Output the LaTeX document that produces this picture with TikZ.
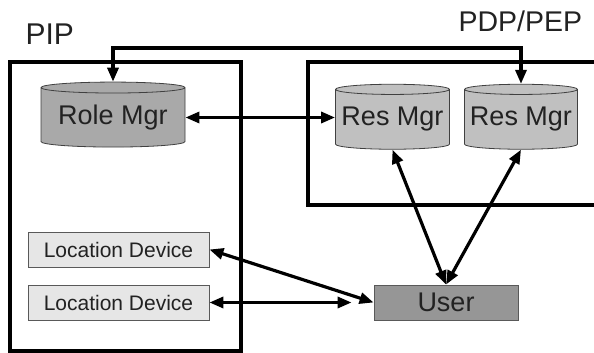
\documentclass[tikz,border=0pt]{standalone}
\usepackage{fontspec}
\setmainfont{Liberation Sans}
\usetikzlibrary{shapes.geometric,arrows.meta}
\definecolor{txt}{HTML}{222222}
\definecolor{rolegray}{HTML}{A9A9A9}
\definecolor{resgray}{HTML}{C0C0C0}
\definecolor{devgray}{HTML}{E6E6E6}
\definecolor{usergray}{HTML}{969696}

\begin{document}
\begin{tikzpicture}[x=1pt,y=-1pt,
		db/.style={cylinder, shape border rotate=90, aspect=0.1, draw=black!75, line width=0.8pt, minimum height=65pt, inner sep=0pt, text=txt, font=\fontsize{27}{27}\selectfont},
		dev/.style={rectangle, draw=black!65, line width=0.8pt, minimum height=35pt, inner sep=0pt, text=txt},
		frame/.style={line width=3.5pt},
		link/.style={{Triangle[length=14pt,width=11pt]}-{Triangle[length=14pt,width=11pt]}, line width=3.2pt}]
			\useasboundingbox (0,0) rectangle (594,353);
			
			\node[anchor=base west, text=txt, font=\fontsize{30}{30}\selectfont] (PIP) at (22,45) {PIP};
			\node[anchor=base west, text=txt, font=\fontsize{28.5}{28.5}\selectfont] (PDP) at (455,32) {PDP/PEP};
			
			\draw[frame] (10,62) rectangle (241,351);
			\draw[frame] (597,62) -- (308,62) -- (308,205) -- (597,205);
			
			\node[db, fill=rolegray, minimum width=144pt] (RM) at (113,117.5) {Role Mgr};
			\node[db, fill=resgray, minimum width=114pt] (RS1) at (392.5,119.5) {Res Mgr};
			\node[db, fill=resgray, minimum width=113pt] (RS2) at (521,119.5) {Res Mgr};
			\node[dev, fill=devgray, minimum width=181pt, font=\fontsize{21}{21}\selectfont] (L1) at (118.5,249.5) {Location Device};
			\node[dev, fill=devgray, minimum width=181pt, font=\fontsize{21}{21}\selectfont] (L2) at (118.5,302.5) {Location Device};
			\node[dev, fill=usergray, minimum width=144pt, font=\fontsize{27}{27}\selectfont] (U) at (446,302.5) {User};
			
			\draw[link] (RM.north) -- (RM.north |- 0,48) -| (RS2.north);
			\draw[link] (RM.east) -- (RS1.west |- RM.east);
			\draw[link] (L1.east) -- (U.west);
			\draw[link, shorten >=22pt] (L2.east) -- (U.west);
			\draw[link] (U.north) -- (RS1.south);
			\draw[link] (U.north) -- (RS2.south);
\end{tikzpicture}
\end{document}
